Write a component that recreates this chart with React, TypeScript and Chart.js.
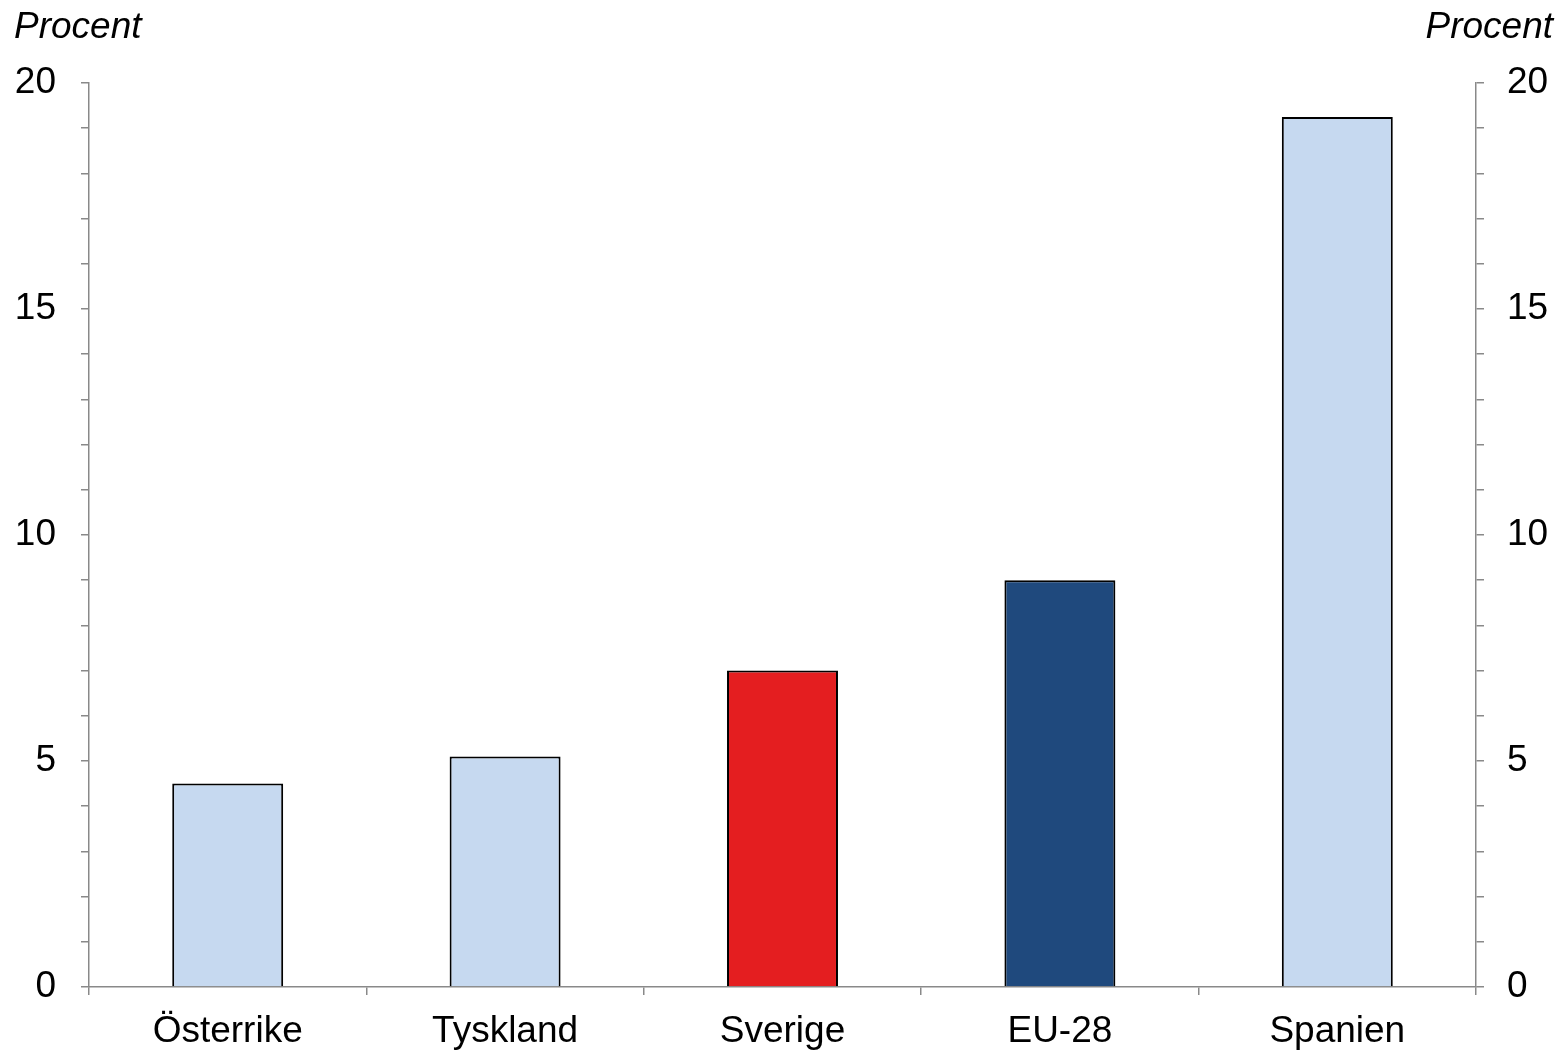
import React, { useEffect, useRef } from "react";
import { Chart, registerables } from "chart.js";

Chart.register(...registerables);

const categories = ["Österrike", "Tyskland", "Sverige", "EU-28", "Spanien"];
const values = [4.5, 5.1, 7.0, 9.0, 19.25];
const barColors = ["#C6D9F0", "#C6D9F0", "#E41E20", "#1F497D", "#C6D9F0"];
const axisLabel = "Procent";
const yMin = 0;
const yMax = 20;
const labeledStep = 5;

const FONT = "'Liberation Sans', Arial, sans-serif";
const FONT_SIZE = 37;
const AXIS_COLOR = "#898989";

export default function App() {
  const ref = useRef<HTMLCanvasElement | null>(null);

  useEffect(() => {
    if (!ref.current) return;
    const titlePlugin = {
      id: "procentTitles",
      afterDraw(chart: any) {
        const ctx = chart.ctx;
        ctx.save();
        ctx.font = `italic ${FONT_SIZE}px ${FONT}`;
        ctx.fillStyle = "#000";
        ctx.textBaseline = "alphabetic";
        ctx.textAlign = "left";
        ctx.fillText(axisLabel, 14, 38);
        ctx.textAlign = "right";
        ctx.fillText(axisLabel, 1553, 38);
        ctx.restore();
      },
    };
    const makeTicks = (padding: number) => ({
      stepSize: 1,
      autoSkip: false,
      padding,
      color: "#000",
      font: { family: FONT, size: FONT_SIZE },
      callback: (v: any) => (Number(v) % labeledStep === 0 ? String(v) : ""),
    });
    const yGrid = {
      drawOnChartArea: false,
      drawTicks: true,
      tickLength: 8,
      color: AXIS_COLOR,
      lineWidth: 1.5,
    };
    const chart = new Chart(ref.current, {
      type: "bar",
      data: {
        labels: categories,
        datasets: [
          {
            data: values,
            backgroundColor: barColors,
            borderColor: "#000",
            borderWidth: 2,
            categoryPercentage: 1,
            barPercentage: 0.4,
            yAxisID: "y",
          },
        ],
      },
      options: {
        animation: false,
        responsive: false,
        maintainAspectRatio: false,
        devicePixelRatio: 1,
        layout: { padding: { top: 83, left: 0, right: 0, bottom: 0 } },
        plugins: { legend: { display: false }, tooltip: { enabled: false } },
        scales: {
          x: {
            offset: true,
            grid: {
              offset: true,
              drawOnChartArea: false,
              drawTicks: true,
              tickLength: 8,
              color: AXIS_COLOR,
              lineWidth: 1.5,
            },
            border: { color: AXIS_COLOR, width: 1.5 },
            ticks: {
              color: "#000",
              font: { family: FONT, size: FONT_SIZE },
              padding: 15,
              maxRotation: 0,
              autoSkip: false,
            },
            afterFit: (s: any) => {
              s.height = 63;
            },
          },
          y: {
            position: "left",
            min: yMin,
            max: yMax,
            grid: yGrid,
            border: { color: AXIS_COLOR, width: 1.5 },
            ticks: makeTicks(25),
            afterFit: (s: any) => {
              s.width = 89;
            },
          },
          y2: {
            position: "right",
            min: yMin,
            max: yMax,
            grid: yGrid,
            border: { color: AXIS_COLOR, width: 1.5 },
            ticks: makeTicks(23),
            afterFit: (s: any) => {
              s.width = 86;
            },
          },
        },
      },
      plugins: [titlePlugin],
    } as any);
    return () => chart.destroy();
  }, []);

  return (
    <div style={{ position: "fixed", left: 0, top: 0, width: 1562, height: 1050, background: "#fff" }}>
      <canvas ref={ref} width={1562} height={1050} style={{ width: 1562, height: 1050 }} />
    </div>
  );
}
